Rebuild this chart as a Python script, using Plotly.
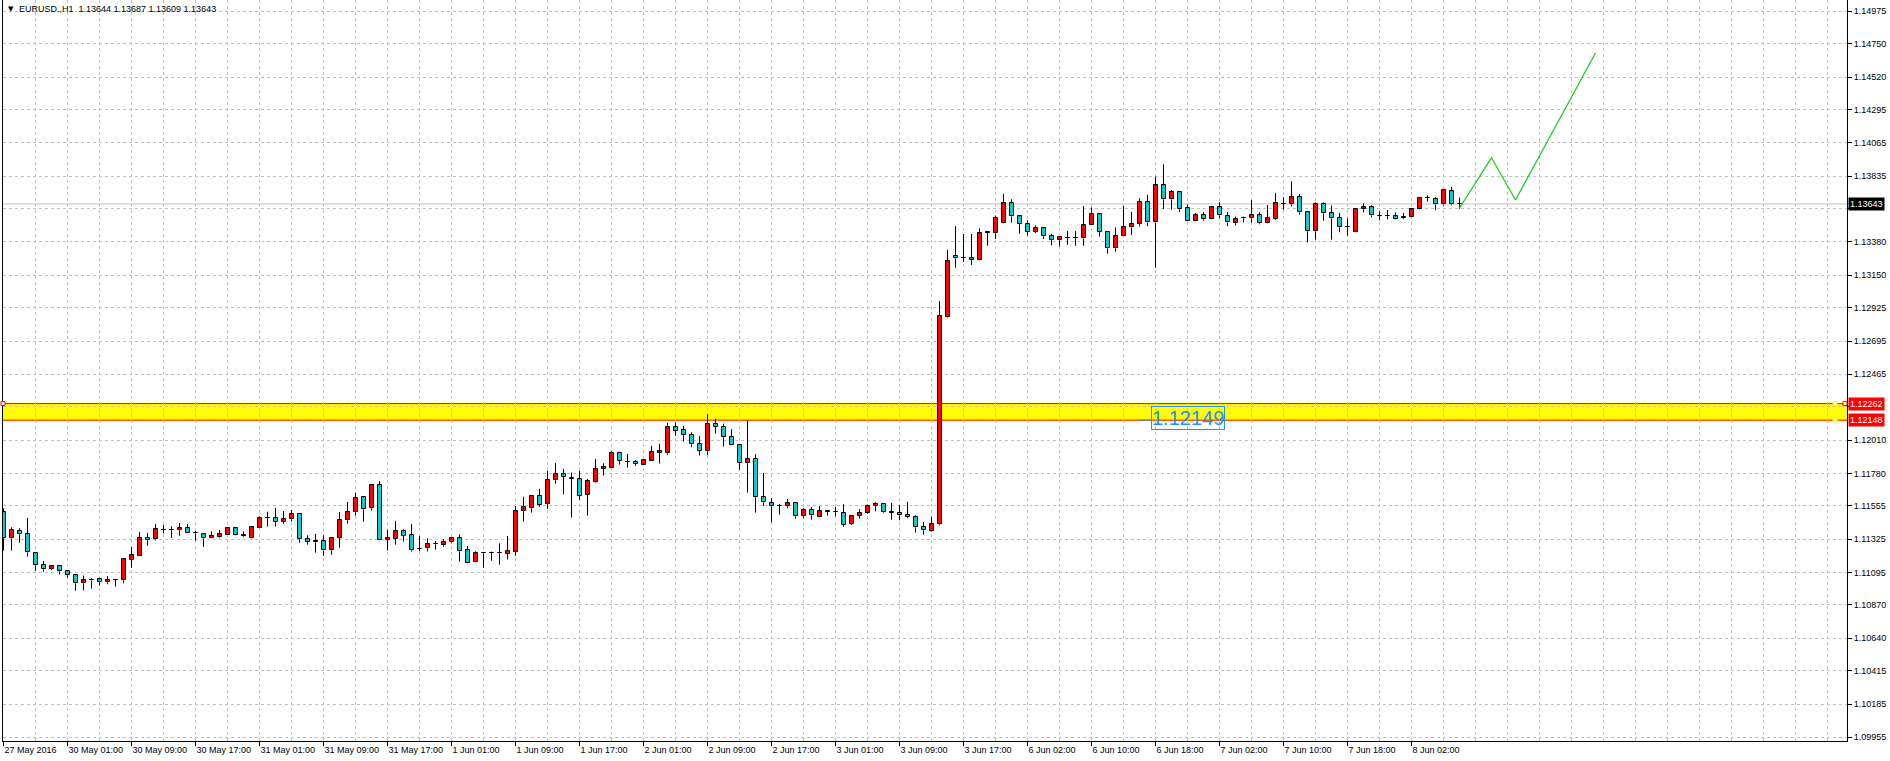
import plotly.graph_objects as go

# ---------------- data ----------------
symbol_title = "EURUSD.,H1  1.13644 1.13687 1.13609 1.13643"

time_labels = ["27 May 2016", "30 May 01:00", "30 May 09:00", "30 May 17:00", "31 May 01:00",
               "31 May 09:00", "31 May 17:00", "1 Jun 01:00", "1 Jun 09:00", "1 Jun 17:00",
               "2 Jun 01:00", "2 Jun 09:00", "2 Jun 17:00", "3 Jun 01:00", "3 Jun 09:00",
               "3 Jun 17:00", "6 Jun 02:00", "6 Jun 10:00", "6 Jun 18:00", "7 Jun 02:00",
               "7 Jun 10:00", "7 Jun 18:00", "8 Jun 02:00"]
time_label_bars = [0, 8, 16, 24, 32, 40, 48, 56, 64, 72, 80, 88, 96, 104, 112, 120, 128,
                   136, 144, 152, 160, 168, 176]

price_labels = ["1.09955", "1.10185", "1.10415", "1.10640", "1.10870", "1.11095", "1.11325",
                "1.11555", "1.11780", "1.12010", "1.12240", "1.12465", "1.12695", "1.12925",
                "1.13150", "1.13380", "1.13610", "1.13835", "1.14065", "1.14295", "1.14520",
                "1.14750", "1.14975"]
# labels covered by the price tags on the axis
covered_labels = ["1.12240", "1.13610"]

open_ = [1.11511, 1.11331, 1.11382, 1.11358, 1.11227, 1.11147, 1.11117, 1.11140, 1.11103, 1.11075,
         1.11020, 1.11045, 1.11047, 1.11027, 1.11043, 1.11040, 1.11183, 1.11211, 1.11333, 1.11324,
         1.11389, 1.11386, 1.11386, 1.11400, 1.11365, 1.11358, 1.11331, 1.11342, 1.11356, 1.11400,
         1.11345, 1.11336, 1.11405, 1.11469, 1.11469, 1.11446, 1.11462, 1.11499, 1.11324, 1.11310,
         1.11310, 1.11248, 1.11336, 1.11455, 1.11511, 1.11614, 1.11538, 1.11697, 1.11317, 1.11329,
         1.11379, 1.11352, 1.11257, 1.11262, 1.11289, 1.11283, 1.11303, 1.11331, 1.11248, 1.11165,
         1.11227, 1.11232, 1.11227, 1.11225, 1.11239, 1.11518, 1.11539, 1.11622, 1.11571, 1.11732,
         1.11774, 1.11744, 1.11739, 1.11633, 1.11723, 1.11808, 1.11820, 1.11921, 1.11861, 1.11857,
         1.11841, 1.11868, 1.11919, 1.11919, 1.12099, 1.12080, 1.12046, 1.11981, 1.11933, 1.12120,
         1.12101, 1.12030, 1.11974, 1.11850, 1.11880, 1.11615, 1.11573, 1.11555, 1.11553, 1.11573,
         1.11483, 1.11527, 1.11477, 1.11516, 1.11511, 1.11504, 1.11433, 1.11486, 1.11504, 1.11553,
         1.11569, 1.11509, 1.11506, 1.11493, 1.11477, 1.11410, 1.11384, 1.11428, 1.12859, 1.13283,
         1.13267, 1.13267, 1.13253, 1.13442, 1.13440, 1.13509, 1.13647, 1.13557, 1.13502, 1.13449,
         1.13474, 1.13419, 1.13391, 1.13405, 1.13405, 1.13405, 1.13495, 1.13571, 1.13449, 1.13336,
         1.13419, 1.13481, 1.13502, 1.13654, 1.13516, 1.13772, 1.13675, 1.13723, 1.13613, 1.13527,
         1.13564, 1.13537, 1.13619, 1.13557, 1.13509, 1.13544, 1.13544, 1.13564, 1.13509, 1.13541,
         1.13645, 1.13640, 1.13689, 1.13585, 1.13454, 1.13640, 1.13578, 1.13544, 1.13481, 1.13449,
         1.13606, 1.13619, 1.13562, 1.13557, 1.13557, 1.13544, 1.13550, 1.13606, 1.13682, 1.13675,
         1.13640, 1.13730, 1.13644]
high = [1.11538, 1.11407, 1.11400, 1.11472, 1.11232, 1.11174, 1.11140, 1.11147, 1.11107, 1.11080,
        1.11073, 1.11054, 1.11057, 1.11070, 1.11047, 1.11195, 1.11271, 1.11375, 1.11368, 1.11430,
        1.11423, 1.11414, 1.11437, 1.11430, 1.11382, 1.11365, 1.11379, 1.11389, 1.11405, 1.11407,
        1.11379, 1.11409, 1.11483, 1.11515, 1.11541, 1.11520, 1.11527, 1.11504, 1.11352, 1.11361,
        1.11352, 1.11340, 1.11513, 1.11582, 1.11644, 1.11616, 1.11699, 1.11727, 1.11389, 1.11451,
        1.11393, 1.11430, 1.11347, 1.11331, 1.11312, 1.11326, 1.11340, 1.11358, 1.11278, 1.11241,
        1.11236, 1.11239, 1.11296, 1.11347, 1.11553, 1.11618, 1.11629, 1.11673, 1.11797, 1.11852,
        1.11811, 1.11786, 1.11797, 1.11742, 1.11880, 1.11850, 1.11933, 1.11930, 1.11914, 1.11871,
        1.11873, 1.11970, 1.11984, 1.12129, 1.12131, 1.12108, 1.12064, 1.12037, 1.12191, 1.12157,
        1.12124, 1.12085, 1.11984, 1.12145, 1.11912, 1.11783, 1.11608, 1.11569, 1.11603, 1.11580,
        1.11539, 1.11546, 1.11553, 1.11525, 1.11546, 1.11566, 1.11488, 1.11532, 1.11564, 1.11580,
        1.11573, 1.11576, 1.11560, 1.11583, 1.11490, 1.11444, 1.11479, 1.12972, 1.13325, 1.13490,
        1.13435, 1.13435, 1.13474, 1.13456, 1.13562, 1.13713, 1.13675, 1.13562, 1.13530, 1.13495,
        1.13476, 1.13437, 1.13421, 1.13456, 1.13456, 1.13629, 1.13619, 1.13573, 1.13456, 1.13481,
        1.13629, 1.13587, 1.13682, 1.13705, 1.13832, 1.13917, 1.13739, 1.13725, 1.13640, 1.13580,
        1.13587, 1.13624, 1.13654, 1.13587, 1.13555, 1.13555, 1.13670, 1.13585, 1.13636, 1.13719,
        1.13689, 1.13799, 1.13712, 1.13587, 1.13654, 1.13654, 1.13633, 1.13580, 1.13544, 1.13613,
        1.13647, 1.13633, 1.13592, 1.13601, 1.13585, 1.13580, 1.13613, 1.13689, 1.13703, 1.13689,
        1.13739, 1.13762, 1.13687]
low = [1.11246, 1.11246, 1.11301, 1.11204, 1.11107, 1.11100, 1.11112, 1.11082, 1.11061, 1.10969,
       1.10971, 1.10983, 1.11004, 1.11013, 1.10997, 1.11020, 1.11128, 1.11211, 1.11280, 1.11317,
       1.11365, 1.11333, 1.11349, 1.11363, 1.11315, 1.11271, 1.11329, 1.11336, 1.11354, 1.11352,
       1.11338, 1.11334, 1.11405, 1.11412, 1.11412, 1.11432, 1.11448, 1.11301, 1.11287, 1.11232,
       1.11209, 1.11218, 1.11266, 1.11432, 1.11488, 1.11446, 1.11522, 1.11315, 1.11246, 1.11287,
       1.11308, 1.11239, 1.11241, 1.11241, 1.11253, 1.11273, 1.11296, 1.11170, 1.11158, 1.11163,
       1.11128, 1.11176, 1.11149, 1.11184, 1.11211, 1.11447, 1.11509, 1.11550, 1.11534, 1.11707,
       1.11635, 1.11474, 1.11596, 1.11488, 1.11716, 1.11765, 1.11818, 1.11841, 1.11820, 1.11832,
       1.11836, 1.11866, 1.11848, 1.11908, 1.12039, 1.12000, 1.11961, 1.11903, 1.11905, 1.12055,
       1.11965, 1.11972, 1.11805, 1.11647, 1.11509, 1.11553, 1.11440, 1.11495, 1.11539, 1.11467,
       1.11470, 1.11460, 1.11475, 1.11488, 1.11483, 1.11412, 1.11424, 1.11467, 1.11499, 1.11518,
       1.11504, 1.11460, 1.11456, 1.11470, 1.11371, 1.11357, 1.11377, 1.11420, 1.12855, 1.13202,
       1.13244, 1.13221, 1.13251, 1.13354, 1.13401, 1.13507, 1.13514, 1.13437, 1.13424, 1.13442,
       1.13401, 1.13357, 1.13348, 1.13361, 1.13354, 1.13354, 1.13493, 1.13417, 1.13299, 1.13313,
       1.13417, 1.13428, 1.13488, 1.13490, 1.13202, 1.13608, 1.13603, 1.13587, 1.13521, 1.13523,
       1.13527, 1.13535, 1.13544, 1.13490, 1.13495, 1.13514, 1.13514, 1.13502, 1.13507, 1.13534,
       1.13603, 1.13627, 1.13569, 1.13378, 1.13396, 1.13527, 1.13396, 1.13447, 1.13424, 1.13447,
       1.13585, 1.13550, 1.13530, 1.13537, 1.13535, 1.13537, 1.13548, 1.13604, 1.13659, 1.13599,
       1.13633, 1.13633, 1.13609]
close = [1.11331, 1.11389, 1.11358, 1.11234, 1.11144, 1.11117, 1.11137, 1.11103, 1.11075, 1.11020,
         1.11040, 1.11040, 1.11027, 1.11040, 1.11043, 1.11186, 1.11213, 1.11331, 1.11317, 1.11393,
         1.11390, 1.11386, 1.11400, 1.11365, 1.11365, 1.11331, 1.11347, 1.11358, 1.11400, 1.11356,
         1.11352, 1.11407, 1.11469, 1.11469, 1.11446, 1.11462, 1.11497, 1.11324, 1.11303, 1.11303,
         1.11248, 1.11331, 1.11455, 1.11511, 1.11608, 1.11531, 1.11697, 1.11317, 1.11331, 1.11379,
         1.11349, 1.11248, 1.11257, 1.11289, 1.11289, 1.11303, 1.11331, 1.11241, 1.11163, 1.11227,
         1.11227, 1.11232, 1.11227, 1.11241, 1.11518, 1.11546, 1.11622, 1.11564, 1.11732, 1.11774,
         1.11758, 1.11744, 1.11626, 1.11728, 1.11808, 1.11822, 1.11921, 1.11868, 1.11861, 1.11845,
         1.11871, 1.11926, 1.11933, 1.12099, 1.12076, 1.12044, 1.11981, 1.11938, 1.12120, 1.12101,
         1.12030, 1.11974, 1.11850, 1.11880, 1.11615, 1.11580, 1.11553, 1.11555, 1.11573, 1.11483,
         1.11527, 1.11490, 1.11518, 1.11516, 1.11511, 1.11426, 1.11486, 1.11506, 1.11555, 1.11569,
         1.11511, 1.11509, 1.11490, 1.11477, 1.11407, 1.11387, 1.11428, 1.12868, 1.13247, 1.13267,
         1.13267, 1.13253, 1.13440, 1.13449, 1.13544, 1.13647, 1.13557, 1.13502, 1.13449, 1.13474,
         1.13419, 1.13394, 1.13412, 1.13405, 1.13405, 1.13495, 1.13571, 1.13449, 1.13336, 1.13419,
         1.13481, 1.13502, 1.13654, 1.13516, 1.13772, 1.13675, 1.13723, 1.13606, 1.13523, 1.13564,
         1.13537, 1.13619, 1.13564, 1.13516, 1.13537, 1.13544, 1.13564, 1.13509, 1.13544, 1.13647,
         1.13645, 1.13689, 1.13585, 1.13454, 1.13640, 1.13578, 1.13544, 1.13481, 1.13481, 1.13606,
         1.13619, 1.13564, 1.13562, 1.13557, 1.13537, 1.13550, 1.13606, 1.13682, 1.13682, 1.13640,
         1.13737, 1.13640, 1.13643]

current_price = 1.13643
zone_top = 1.12262
zone_bottom = 1.12148
zone_note = "1.12149"

forecast_bars = [182, 186, 189, 199]
forecast_prices = [1.13615, 1.13962, 1.13670, 1.14687]

# ---------------- style ----------------
BULL = "#FF0000"
BEAR = "#00CED1"
GRID = "#C0C0C0"
FONT = "Liberation Sans"

n = len(open_)
bars = list(range(n))

fig = go.Figure()

# bodies
base = [min(o, c) for o, c in zip(open_, close)]
top = [max(o, c) for o, c in zip(open_, close)]
height = [max(t - b, 0.000008) for t, b in zip(top, base)]
colors = [BULL if c > o else BEAR for o, c in zip(open_, close)]
fig.add_trace(go.Bar(x=bars, y=height, base=base, width=0.5,
                     marker=dict(color=colors, line=dict(color="black", width=1)),
                     hoverinfo="skip", showlegend=False))

# wicks (only outside the body so they never cover the fill)
wx, wy = [], []
for i in bars:
    if high[i] > top[i]:
        wx += [i, i, None]
        wy += [top[i], high[i], None]
    if low[i] < base[i]:
        wx += [i, i, None]
        wy += [low[i], base[i], None]
fig.add_trace(go.Scatter(x=wx, y=wy, mode="lines", line=dict(color="black", width=1),
                         hoverinfo="skip", showlegend=False))

# forecast zigzag
fig.add_trace(go.Scatter(x=forecast_bars, y=forecast_prices, mode="lines",
                         line=dict(color="#22CC22", width=1.3), hoverinfo="skip",
                         showlegend=False))

# yellow zone and red level lines
fig.add_shape(type="rect", xref="paper", x0=0, x1=1, yref="y", y0=zone_bottom, y1=zone_top,
              fillcolor="#FFFF00", line=dict(color="#FFFF00", width=2), layer="below")
for lvl in (zone_top, zone_bottom):
    fig.add_shape(type="line", xref="paper", x0=0, x1=1, yref="y", y0=lvl, y1=lvl,
                  line=dict(color="#FF0000", width=1), layer="between")
# current price line
fig.add_shape(type="line", xref="paper", x0=0, x1=1, yref="y", y0=current_price,
              y1=current_price, line=dict(color="#C0C0C0", width=1), layer="between")

# selection handles of the drawn objects
for px, lvl, col in ((0, zone_top, "#FF0000"), (1, zone_top, "#FF0000")):
    fig.add_shape(type="rect", xref="paper", yref="y", xsizemode="pixel", ysizemode="pixel",
                  xanchor=px, yanchor=lvl, x0=-2 if px == 0 else -4, x1=2 if px == 0 else 0,
                  y0=-2, y1=2, fillcolor="white", line=dict(color=col, width=1))
for lvl in (zone_top, zone_bottom):
    fig.add_shape(type="rect", xref="paper", yref="y", xsizemode="pixel", ysizemode="pixel",
                  xanchor=1, yanchor=lvl, x0=-14, x1=-10, y0=-2, y1=2,
                  fillcolor="white", line=dict(color="#FFFF00", width=1))

# blue note text
fig.add_shape(type="line", x0=142.1, x1=143.4, y0=zone_bottom, y1=zone_bottom,
              line=dict(color="#1E90FF", width=1))
fig.add_annotation(x=143.4, y=1.12163, text=zone_note, showarrow=False, xanchor="left",
                   yanchor="middle", font=dict(family=FONT, size=20, color="#1E90FF"),
                   bordercolor="#1E90FF", borderwidth=1, borderpad=0)

# axis price tags
for val, bg in ((current_price, "#000000"), (zone_top, "#FF0000"), (zone_bottom, "#FF0000")):
    fig.add_annotation(xref="paper", x=1, xshift=1, y=val, yref="y", text=f"{val:.5f}",
                       showarrow=False, xanchor="left", yanchor="middle",
                       font=dict(family=FONT, size=9, color="white"), bgcolor=bg,
                       borderpad=1)

# title
fig.add_annotation(xref="paper", yref="paper", x=0, y=1, xshift=3, yshift=-3, text="▼",
                   showarrow=False, xanchor="left", yanchor="top",
                   font=dict(family="DejaVu Sans", size=7, color="black"))
fig.add_annotation(xref="paper", yref="paper", x=0, y=1, xshift=14, yshift=-2,
                   text=symbol_title, showarrow=False, xanchor="left", yanchor="top",
                   font=dict(family=FONT, size=9, color="black"))

y_ticktext = ["" if p in covered_labels else p for p in price_labels]

fig.update_layout(
    width=1890, height=761,
    margin=dict(l=3, r=43, t=0, b=20),
    paper_bgcolor="white", plot_bgcolor="white",
    bargap=0, showlegend=False,
    font=dict(family=FONT, size=9, color="black"),
    xaxis=dict(range=[-0.0625, 230.4375], tickmode="array", tickvals=time_label_bars,
               ticktext=time_labels, ticks="outside", ticklen=4, tickcolor="black",
               ticklabelposition="outside right", showline=True, linecolor="black",
               linewidth=1, showgrid=True, gridcolor=GRID, griddash="3px,3px",
               minor=dict(dtick=4, tick0=0, showgrid=True, gridcolor=GRID,
                          griddash="3px,3px", ticks=""),
               zeroline=False, fixedrange=True),
    yaxis=dict(range=[1.099294, 1.150531], side="right", tickmode="array",
               tickvals=[float(p) for p in price_labels], ticktext=y_ticktext,
               ticks="outside", ticklen=4, tickcolor="black", showline=True,
               linecolor="black", linewidth=1, mirror=True, showgrid=True,
               gridcolor=GRID, griddash="3px,3px", zeroline=False, fixedrange=True),
)

fig.write_html("out.html", config={"displayModeBar": False},
               post_script="document.body.style.margin='0';document.body.style.overflow='hidden';")
